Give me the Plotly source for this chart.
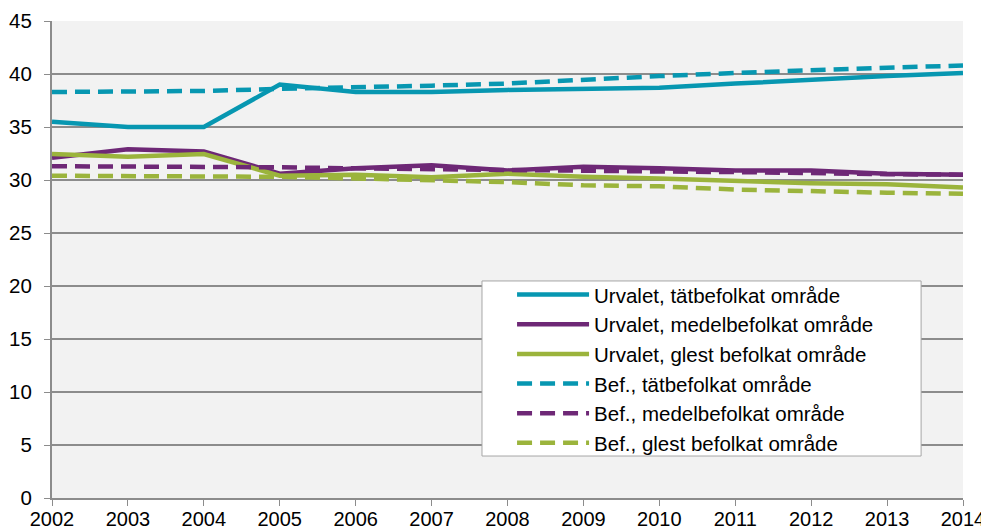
import plotly.graph_objects as go

years = list(range(2002, 2015))

# Urvalet (solid) and Bef. (dashed), per area type
urv_tat = [35.5, 35.0, 35.0, 39.0, 38.3, 38.3, 38.5, 38.6, 38.7, 39.1, 39.5, 39.8, 40.1]
urv_medel = [32.1, 32.9, 32.7, 30.6, 31.1, 31.4, 30.9, 31.25, 31.1, 30.9, 30.9, 30.6, 30.5]
urv_glest = [32.45, 32.2, 32.45, 30.4, 30.5, 30.25, 30.6, 30.3, 30.15, 29.9, 29.7, 29.6, 29.3]
bef_tat = [38.3, 38.35, 38.4, 38.6, 38.7, 38.9, 39.1, 39.5, 39.8, 40.1, 40.4, 40.6, 40.8]
bef_medel = [31.3, 31.3, 31.3, 31.2, 31.1, 31.0, 30.9, 30.8, 30.8, 30.75, 30.6, 30.55, 30.5]
bef_glest = [30.4, 30.4, 30.4, 30.3, 30.15, 30.0, 29.8, 29.5, 29.4, 29.1, 28.9, 28.8, 28.7]

teal = '#0797B1'
purple = '#6E2876'
green = '#9BB43C'

series = [
    ('Urvalet, tätbefolkat område', urv_tat, teal, 'solid'),
    ('Urvalet, medelbefolkat område', urv_medel, purple, 'solid'),
    ('Urvalet, glest befolkat område', urv_glest, green, 'solid'),
    ('Bef., tätbefolkat område', bef_tat, teal, '15px,8px'),
    ('Bef., medelbefolkat område', bef_medel, purple, '15px,8px'),
    ('Bef., glest befolkat område', bef_glest, green, '15px,8px'),
]

fig = go.Figure()
for name, vals, col, dash in series:
    fig.add_trace(go.Scatter(x=years, y=vals, name=name, mode='lines',
                             line=dict(color=col, width=4.5, dash=dash)))

# white legend box drawn as a shape so the entries can sit inset from its edge
fig.add_shape(type='rect', xref='paper', yref='paper',
              x0=0.472, x1=0.954, y0=0.088, y1=0.455,
              fillcolor='white', line=dict(color='#A6A6A6', width=1), layer='above')

# page body has an 8px margin, so the figure is 8px smaller than the window
fig.update_layout(
    width=981, height=524,
    margin=dict(l=44, r=26, t=13, b=34, autoexpand=False),
    paper_bgcolor='white', plot_bgcolor='#F2F2F2',
    font=dict(family='Liberation Sans, Arial', size=20, color='black'),
    showlegend=True,
    legend=dict(x=0.505, y=0.468, xanchor='left', yanchor='top',
                bgcolor='rgba(0,0,0,0)', borderwidth=0,
                traceorder='normal', itemwidth=72,
                font=dict(size=20.5)),
)
fig.update_xaxes(range=[2002, 2014], tickvals=years, showgrid=False,
                 showline=True, linecolor='#8C8C8C', linewidth=2,
                 ticks='outside', ticklen=6, tickcolor='#8C8C8C', tickwidth=1,
                 zeroline=False, ticklabelstandoff=-4, automargin=False,
                 tickfont=dict(size=20))
fig.update_yaxes(range=[0, 45], dtick=5, showgrid=True, gridcolor='#8C8C8C',
                 gridwidth=2, showline=True, linecolor='#8C8C8C', linewidth=2,
                 ticks='outside', ticklen=6, tickcolor='#8C8C8C', zeroline=False,
                 ticklabelstandoff=8, automargin=False, tickfont=dict(size=20.5))

fig.write_html("out.html")
